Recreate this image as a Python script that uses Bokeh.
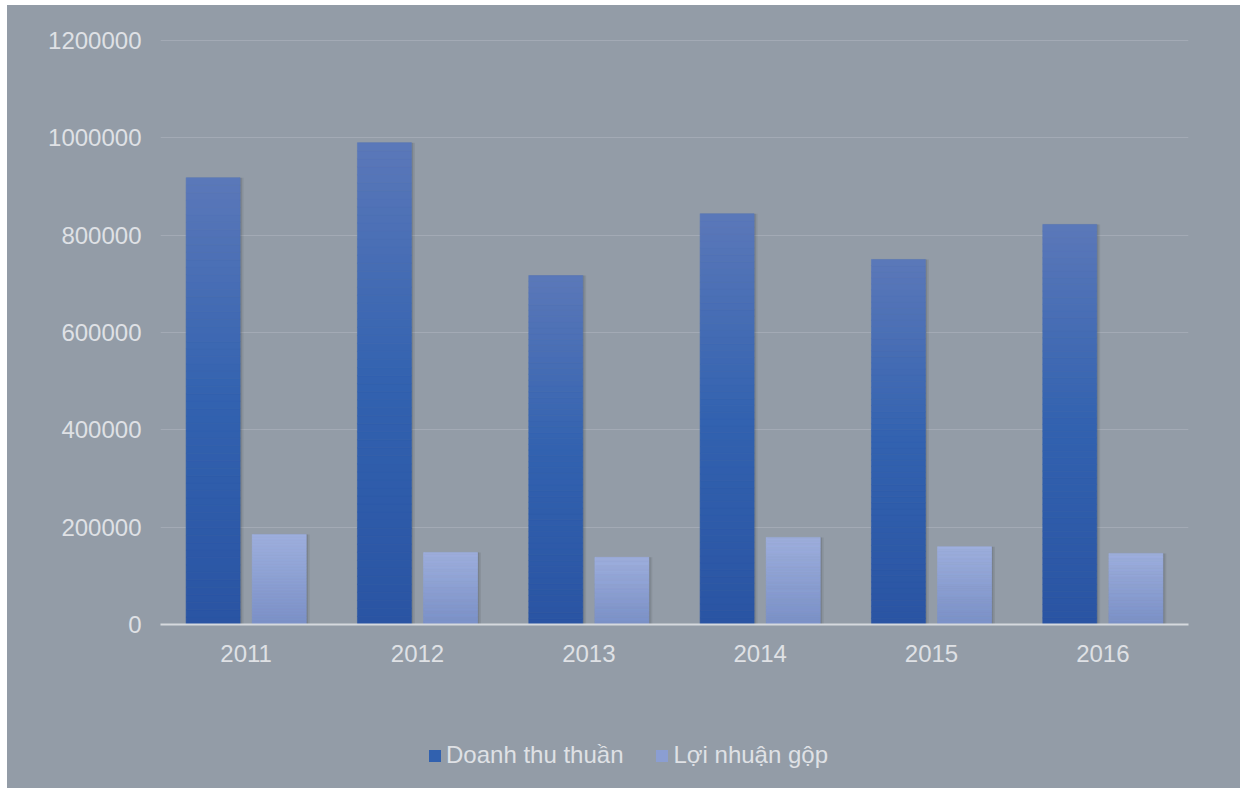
from bokeh.plotting import figure
from bokeh.layouts import column
from bokeh.models import (ColumnDataSource, Range1d, Legend, LegendItem, NumeralTickFormatter,
                          FixedTicker)
from bokeh.transform import dodge
from bokeh.embed import file_html
from bokeh.resources import INLINE

years = ["2011", "2012", "2013", "2014", "2015", "2016"]
doanh_thu = [918000, 990000, 717000, 844000, 750000, 822000]
loi_nhuan = [185000, 148000, 138000, 179000, 160000, 146000]
series_names = ["Doanh thu thuần", "Lợi nhuận gộp"]
y_ticks = [0, 200000, 400000, 600000, 800000, 1000000, 1200000]

BG = "#939ca7"
TXT = "#dfe1e5"
FONT = "Liberation Sans"
FS = "24px"

def hex2rgb(h):
    h = h.lstrip("#")
    return tuple(int(h[i:i + 2], 16) for i in (0, 2, 4))

def interp(stops, t):
    for (t0, c0), (t1, c1) in zip(stops[:-1], stops[1:]):
        if t <= t1:
            f = (t - t0) / (t1 - t0) if t1 > t0 else 0
            a, b = hex2rgb(c0), hex2rgb(c1)
            return "#%02x%02x%02x" % tuple(int(round(a[k] + (b[k] - a[k]) * f)) for k in range(3))
    return stops[-1][1]

dark_stops = [(0.0, "#2a54a3"), (0.5, "#3262b0"), (1.0, "#5b78b9")]
light_stops = [(0.0, "#7b91c8"), (1.0, "#9eafde")]

N = 60

def slices(values, stops):
    xs, bots, tops, cols = [], [], [], []
    for yr, v in zip(years, values):
        for i in range(N):
            xs.append(yr)
            bots.append(v * i / N)
            tops.append(v * (i + 1) / N)
            cols.append(interp(stops, (i + 0.5) / N))
    return ColumnDataSource(dict(x=xs, bottom=bots, top=tops, color=cols))

p = figure(x_range=years, y_range=Range1d(0, 1202000), width=1233, height=689,
           output_backend="svg", toolbar_location=None,
           background_fill_color=BG, border_fill_color=BG, outline_line_color=None,
           min_border_left=153, min_border_right=52, min_border_top=34, min_border_bottom=70)
p.styles = {"background-color": BG}

W = 0.315
OFF = 0.193

# soft shadows behind the bars
for series, off in ((doanh_thu, -OFF), (loi_nhuan, OFF)):
    src = ColumnDataSource(dict(x=years, top=series))
    p.vbar(x=dodge("x", off + 0.014, range=p.x_range), top="top", width=W + 0.012, source=src,
           fill_color="black", fill_alpha=0.07, line_color=None)
    p.vbar(x=dodge("x", off + 0.008, range=p.x_range), top="top", width=W + 0.004, source=src,
           fill_color="black", fill_alpha=0.10, line_color=None)

# gradient bars drawn as stacked slices of each value
src_d = slices(doanh_thu, dark_stops)
src_l = slices(loi_nhuan, light_stops)
p.vbar(x=dodge("x", -OFF, range=p.x_range), bottom="bottom", top="top", width=W, source=src_d,
       fill_color="color", line_color="color", line_width=0.6)
p.vbar(x=dodge("x", OFF, range=p.x_range), bottom="bottom", top="top", width=W, source=src_l,
       fill_color="color", line_color="color", line_width=0.6)

p.xgrid.grid_line_color = None
p.ygrid.grid_line_color = "#a3aab5"
p.ygrid.grid_line_width = 1
p.yaxis.ticker = FixedTicker(ticks=y_ticks)
p.yaxis.formatter = NumeralTickFormatter(format="0")
p.yaxis.axis_line_color = None
p.yaxis.major_tick_line_color = None
p.yaxis.minor_tick_line_color = None
p.yaxis.major_label_standoff = 13
p.xaxis.axis_line_color = "#d6d9de"
p.xaxis.axis_line_width = 2
p.xaxis.major_tick_line_color = None
p.xaxis.minor_tick_line_color = None
p.xaxis.major_label_standoff = 14
for ax in (p.xaxis[0], p.yaxis[0]):
    ax.major_label_text_color = TXT
    ax.major_label_text_font = FONT
    ax.major_label_text_font_size = FS

# legend strip below the chart
lf = figure(width=1233, height=94, x_range=Range1d(0, 1), y_range=Range1d(0, 1),
            output_backend="svg", toolbar_location=None, x_axis_type=None, y_axis_type=None,
            background_fill_color=BG, border_fill_color=BG, outline_line_color=None,
            min_border_left=0, min_border_right=0, min_border_top=0, min_border_bottom=0)
lf.styles = {"background-color": BG}
lf.xgrid.grid_line_color = None
lf.ygrid.grid_line_color = None
# zero-height proxy bars, used only for the legend swatches
lg_d = lf.vbar(x=[0.5], bottom=[0], top=[0], width=0.1, fill_color=interp(dark_stops, 0.45), line_color=None)
lg_l = lf.vbar(x=[0.5], bottom=[0], top=[0], width=0.1, fill_color=interp(light_stops, 0.45), line_color=None)

legend = Legend(items=[LegendItem(label=series_names[0], renderers=[lg_d], index=0),
                       LegendItem(label=series_names[1], renderers=[lg_l], index=0)],
                orientation="horizontal", location=(267, 19),
                background_fill_alpha=0, border_line_color=None,
                label_text_color=TXT, label_text_font=FONT, label_text_font_size=FS,
                glyph_width=15, glyph_height=15, label_standoff=4, spacing=31,
                padding=0, margin=0)
lf.add_layout(legend, "center")

layout = column(p, lf, spacing=0)
layout.margin = (5, 3, 2, 7)

open("out.html", "w").write(file_html(layout, INLINE))
